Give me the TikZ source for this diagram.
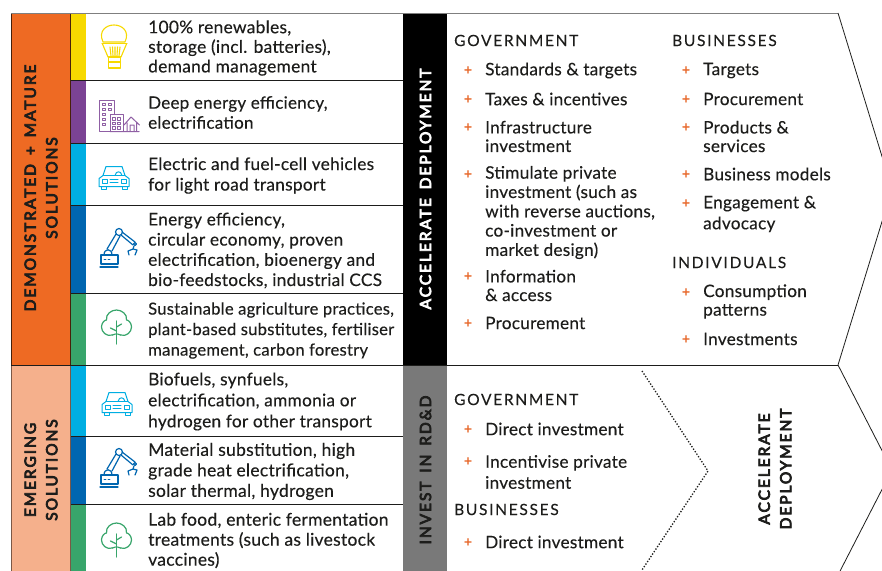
\documentclass[tikz,border=0pt]{standalone}
\usepackage{fontspec}
\setmainfont[LetterSpace=1.5,FakeBold=0.25]{Lato}
\newfontfamily\hd[LetterSpace=11,FakeBold=0.2]{Lato}
\newfontfamily\vt[LetterSpace=12.5,WordSpace=1.5,FakeBold=5]{Lato}
\definecolor{oran}{HTML}{EE6A23}
\definecolor{peach}{HTML}{F5B08C}
\definecolor{yel}{HTML}{F7D900}
\definecolor{purp}{HTML}{7B4394}
\definecolor{cyn}{HTML}{00AEE2}
\definecolor{blu}{HTML}{0066B0}
\definecolor{grn}{HTML}{38A56B}
\definecolor{grey1}{HTML}{7F7F7F}
\definecolor{plusc}{HTML}{E8682A}
\definecolor{ink}{HTML}{1D1D1B}
\tikzset{
 body/.style 2 args={anchor=west,inner sep=0pt,text=ink,align=left,font=\fontsize{#2}{#1}\selectfont},
 head/.style={anchor=west,inner sep=0pt,text=ink,font=\hd\fontsize{15.5}{20}\selectfont},
 plus/.style={anchor=center,inner sep=0pt,text=plusc,font=\bfseries\fontsize{14}{14}\selectfont},
 vert/.style={rotate=90,inner sep=0pt,align=center,font=\vt\fontsize{15.5}{21.5}\selectfont},
 rule/.style={draw=ink,line width=1pt},
 ico/.style={line width=1pt,line cap=round,line join=round},
 car/.pic={\begin{scope}[ico,draw=cyn]
  \draw (-15,9) -- (-15,1) -- (-11,-2) -- (-8,-11) -- (8,-11) -- (11,-2) -- (15,1) -- (15,9) -- cycle;
  \draw (-11,-2) -- (11,-2);
  \draw (-13,9) -- (-13,12) -- (-8,12) -- (-8,9) (8,9) -- (8,12) -- (13,12) -- (13,9);
  \draw (-12,1.5) rectangle (-7,5.5) (7,1.5) rectangle (12,5.5);
  \draw (-4,2) -- (4,2) (-4,5) -- (4,5);
  \draw (1,-2) .. controls (2,-7) and (7,-7) .. (8,-2);
 \end{scope}},
 robot/.pic={\begin{scope}[ico,draw=blu,line width=1.2pt]
  \draw (-15,20) -- (3,20) (-14,8) rectangle (3,17);
  \draw (-11,8) .. controls (-11,1) and (-3,1) .. (-3,8);
  \draw (-8,2) -- (1,-13) (-3,4) -- (5,-11);
  \draw (4,-15) circle (3.5);
  \draw (7,-15) -- (20,-5) (6,-12) -- (18,-2);
  \draw (20,-3) circle (1.5);
  \draw (19,-1) -- (18,2) -- (13,4) -- (14,8) (18,2) -- (22,3) -- (20,8);
  \draw[line width=.9pt] (-11,12) -- (-9,12) (-7,12) -- (-5,12);
 \end{scope}},
 tree/.pic={\begin{scope}[ico,draw=grn,line width=1.2pt]
  \draw (-4,8) .. controls (-10,10) and (-15,5) .. (-15,0)
    .. controls (-15,-4) and (-12,-7) .. (-10,-7)
    .. controls (-11,-13) and (-5,-17) .. (0,-17)
    .. controls (5,-17) and (11,-13) .. (10,-7)
    .. controls (12,-7) and (15,-4) .. (15,0)
    .. controls (15,5) and (10,10) .. (4,8);
  \draw (-4,8) -- (-1,7) (4,8) -- (1,7);
  \draw (0,-6) -- (0,17);
  \draw (0,4) -- (-6,1) (0,0) -- (5,-3);
 \end{scope}}
}
\begin{document}
\begin{tikzpicture}[x=1pt,y=-1pt]
\useasboundingbox (0,0) rectangle (882,570);
\fill[white] (0,0) rectangle (882,570);
% side panels
\path[fill=oran,draw=black!70!oran,line width=.8pt] (11,13) rectangle (70.5,365);
\path[fill=peach,draw=black!50!peach,line width=.8pt] (11,365) rectangle (70.5,571);
% colour bars
\fill[yel] (71,13) rectangle (86,80);
\fill[purp] (71,80) rectangle (86,143);
\fill[cyn] (71,143) rectangle (86,205);
\fill[blu] (71,205) rectangle (86,293);
\fill[grn] (71,293) rectangle (86,365);
\fill[cyn] (71,365) rectangle (86,436);
\fill[blu] (71,436) rectangle (86,504);
\fill[grn] (71,504) rectangle (86,571);
% black and grey columns
\fill[black] (403,13) rectangle (447,365);
\fill[grey1!95!black] (403,365) rectangle (447,571);
% rules
\draw[rule,draw=grey1] (11,13) -- (838,13);
\draw[rule] (71,80.5) -- (403,80.5) (71,143) -- (403,143) (71,205.5) -- (403,205.5) (71,293) -- (403,293);
\draw[rule] (11,365.3) -- (838,365.3);
\draw[rule] (71,436.5) -- (403,436.5) (71,504) -- (403,504);
% chevrons
\draw[ink,line width=.8pt] (838,13) -- (892,189) -- (838,365) -- (892,470) -- (838,575);
\draw[ink,line width=1.3pt,dash pattern=on 1.3pt off 1.7pt] (642,371) -- (708,471) -- (642,570);
% vertical headings
\node[vert,text=ink] (t1) at (41,188) {DEMONSTRATED + MATURE\\SOLUTIONS};
\node[vert,text=ink] (t2) at (41,470) {EMERGING\\SOLUTIONS};
\node[vert,text=white] (t3) at (425.5,189) {ACCELERATE DEPLOYMENT};
\node[vert,text=ink] (t4) at (425.5,470) {INVEST IN RD\&D};
\node[vert,text=ink] (t5) at (775,469) {ACCELERATE\\DEPLOYMENT};
% left texts
\node[body={19.6}{17.4}] (a1) at (148,48) {100\% renewables,\\storage (incl. batteries),\\demand management};
\node[body={20}{17}] (a2) at (148,112.5) {Deep energy efficiency,\\electrification};
\node[body={20.5}{17.3}] (a3) at (148,175.5) {Electric and fuel-cell vehicles\\for light road transport};
\node[body={20.2}{17.3}] (a4) at (148,250.5) {Energy efficiency,\\circular economy, proven\\electrification, bioenergy and\\bio-feedstocks, industrial CCS};
\node[body={20.5}{16.6}] (a5) at (148,330.5) {Sustainable agriculture practices,\\plant-based substitutes, fertiliser\\management, carbon forestry};
\node[body={21}{17.3}] (a6) at (148,401.5) {Biofuels, synfuels,\\electrification, ammonia or\\hydrogen for other transport};
\node[body={20.5}{17.5}] (a7) at (148,471.5) {Material substitution, high\\grade heat electrification,\\solar thermal, hydrogen};
\node[body={20}{17.5}] (a8) at (148,540.5) {Lab food, enteric fermentation\\treatments (such as livestock\\vaccines)};
% icons
\begin{scope}[ico,draw=yel,line width=1.1pt]
 \draw (103,42) .. controls (98,31) and (106,25) .. (114,25) .. controls (122,25) and (130,31) .. (125,42) -- cycle;
 \draw (102,43.5) -- (127,43.5);
 \draw (102.5,44) -- (108,57) -- (121,57) -- (126.5,44);
 \draw (110,47) -- (111,56) (112.5,47) -- (113,56) (115,47) -- (115,56) (117.5,47) -- (117,56) (120,47) -- (119,56);
 \draw (108.5,57) rectangle (120.5,68) (108.5,62) -- (120.5,62);
\end{scope}
\begin{scope}[ico,draw=purp!85,line width=1pt]
 \draw (110,131.5) -- (99.5,131.5) -- (99.5,100.5) -- (114.5,100.5) -- (114.5,114.5);
 \draw (110,131.5) -- (110,114.5) -- (123,114.5) -- (123,131.5);
 \draw (110,131.5) -- (139,131.5) (124,125) -- (131,117) -- (139.5,125) (127,123) -- (127,131.5) (136.5,123) -- (136.5,131.5) (130,125) rectangle (134,131.5);
 \foreach \yy in {103,108,113,118,123} {\draw (102,\yy) rectangle (105,\yy+2.8);}
 \foreach \yy in {103,108} {\draw (108,\yy) rectangle (111,\yy+2.8);}
 \foreach \yy in {117.5,122,126.5} {\draw (112.5,\yy) rectangle (115,\yy+2.5) (117.5,\yy) rectangle (120,\yy+2.5);}
\end{scope}
\pic at (114,177.5) {car};
\pic at (117,403.5) {car};
\pic at (115,247) {robot};
\pic at (115,467) {robot};
\pic at (116.5,327) {tree};
\pic at (116.5,540) {tree};
% headings of the lists
\node[head] (g1) at (454,40.5) {GOVERNMENT};
\node[head] (g2) at (672,40.5) {BUSINESSES};
\node[head] (g3) at (672,262.5) {INDIVIDUALS};
\node[head] (g4) at (454,399.5) {GOVERNMENT};
\node[head] (g5) at (454,509.5) {BUSINESSES};
% lists
\foreach \nm/\xx/\yy/\yp/\ld/\tx in {
 b1/485/70.5/70/20/{Standards \& targets},
 b2/485/99/99/20/{Taxes \& incentives},
 b3/485/136.5/127/18.6/{Infrastructure\\investment},
 b4/485/212.5/174/19.3/{Stimulate private\\investment (such as\\with reverse auctions,\\co-investment or\\market design)},
 b5/485/285.5/276/18.6/{Information\\\& access},
 b6/485/323/323/20/{Procurement},
 c1/703/70.5/70/20/{Targets},
 c2/703/99/99/20/{Procurement},
 c3/703/136.5/127/18.6/{Products \&\\services},
 c4/703/174/174/20/{Business models},
 c5/703/214/203/21/{Engagement \&\\advocacy},
 c6/703/301.5/292/18.6/{Consumption\\patterns},
 c7/703/339/339/20/{Investments},
 d1/485/429/429/20/{Direct investment},
 d2/485/472/461/21/{Incentivise private\\investment},
 d3/485/542/542/20/{Direct investment}} {
  \node[body={\ld}{17.2}] (\nm) at (\xx,\yy) {\tx};
  \node[plus] (\nm p) at (\xx-17,\yp+0.5) {+};
}
\end{tikzpicture}
\end{document}
